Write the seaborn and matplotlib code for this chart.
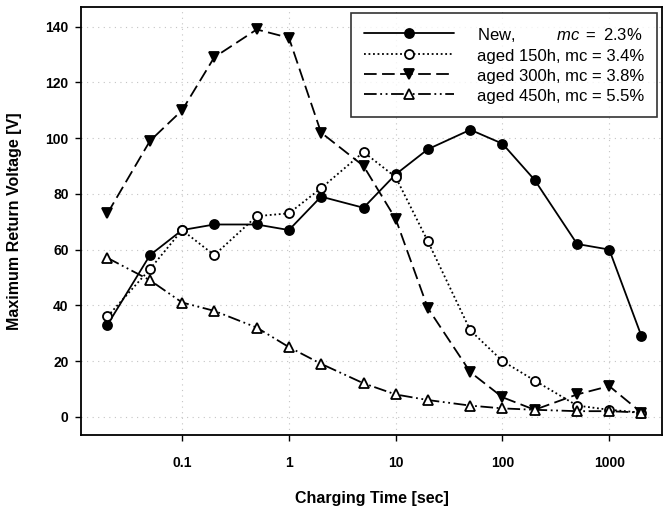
import matplotlib
matplotlib.use("Agg")
import matplotlib.pyplot as plt
import seaborn as sns
import pandas as pd

charging_time = [0.02, 0.05, 0.1, 0.2, 0.5, 1, 2, 5, 10, 20, 50, 100, 200, 500, 1000, 2000]
new_vals = [33, 58, 67, 69, 69, 67, 79, 75, 87, 96, 103, 98, 85, 62, 60, 29]
aged150_vals = [36, 53, 67, 58, 72, 73, 82, 95, 86, 63, 31, 20, 13, 4, 2.5, 1.5]
aged300_vals = [73, 99, 110, 129, 139, 136, 102, 90, 71, 39, 16, 7, 2.5, 8, 11, 1.5]
aged450_vals = [57, 49, 41, 38, 32, 25, 19, 12, 8, 6, 4, 3, 2.5, 2, 2, 1.5]

labels = [r"New,         $\mathit{mc\ =\ 2.3\%}$",
          "aged 150h, mc = 3.4%",
          "aged 300h, mc = 3.8%",
          "aged 450h, mc = 5.5%"]
x_ticks = [0.1, 1, 10, 100, 1000]
x_tick_labels = ["0.1", "1", "10", "100", "1000"]
y_ticks = [0, 20, 40, 60, 80, 100, 120, 140]

sns.set_theme(style="white")
plt.rcParams['font.family'] = ['Liberation Sans', 'DejaVu Sans']
plt.rcParams['mathtext.fontset'] = 'custom'
plt.rcParams['mathtext.rm'] = 'Liberation Sans'
plt.rcParams['mathtext.it'] = 'Liberation Sans:italic'
plt.rcParams['text.color'] = 'black'
plt.rcParams['axes.labelcolor'] = 'black'
plt.rcParams['xtick.color'] = 'black'
plt.rcParams['ytick.color'] = 'black'

fig = plt.figure(figsize=(6.64, 5.11), dpi=100)
ax = fig.add_axes([0.122, 0.149, 0.875, 0.837])

styles = [
    dict(linestyle="-", marker="o", markerfacecolor="black"),
    dict(linestyle=(0, (1, 1.5)), marker="o", markerfacecolor="white"),
    dict(linestyle=(0, (7, 3)), marker="v", markerfacecolor="black"),
    dict(linestyle=(0, (7, 2, 1, 2, 1, 2)), marker="^", markerfacecolor="white"),
]
series = [new_vals, aged150_vals, aged300_vals, aged450_vals]
for vals, lab, st in zip(series, labels, styles):
    df = pd.DataFrame({"t": charging_time, "v": vals})
    sns.lineplot(data=df, x="t", y="v", ax=ax, color="black", linewidth=1.3,
                 markersize=6.5, markeredgecolor="black", markeredgewidth=1.3,
                 label=lab, **st)

ax.set_xscale("log")
ax.set_xlim(0.0113, 3120)
ax.set_ylim(-6.5, 147)
ax.set_xticks(x_ticks)
ax.set_xticklabels(x_tick_labels)
ax.minorticks_off()
ax.set_yticks(y_ticks)
ax.tick_params(axis="both", direction="out", length=4, width=1, color="black",
               labelsize=10, bottom=True, left=True)
ax.tick_params(axis="x", pad=11)
ax.tick_params(axis="y", pad=5)
for t in ax.get_xticklabels() + ax.get_yticklabels():
    t.set_fontweight("bold")
ax.grid(True, which="major", color="#c4c4c4", linestyle=(0, (1, 4)), linewidth=0.8)
for s in ax.spines.values():
    s.set_color("black")
    s.set_linewidth(1.3)

ax.set_xlabel("Charging Time [sec]", fontsize=11.5, fontweight="bold", labelpad=15)
ax.set_ylabel("Maximum Return Voltage [V]", fontsize=11.5, fontweight="bold", labelpad=17)

leg = ax.legend(loc="upper right", frameon=True, fancybox=False, edgecolor="black",
                fontsize=12, handlelength=5.4, handleheight=1.25, numpoints=1,
                borderpad=0.75, labelspacing=0.15, handletextpad=1.4, borderaxespad=0,
                bbox_to_anchor=(0.991, 0.986))
leg.get_frame().set_linewidth(1.2)

fig.savefig("out.png", dpi=100)
